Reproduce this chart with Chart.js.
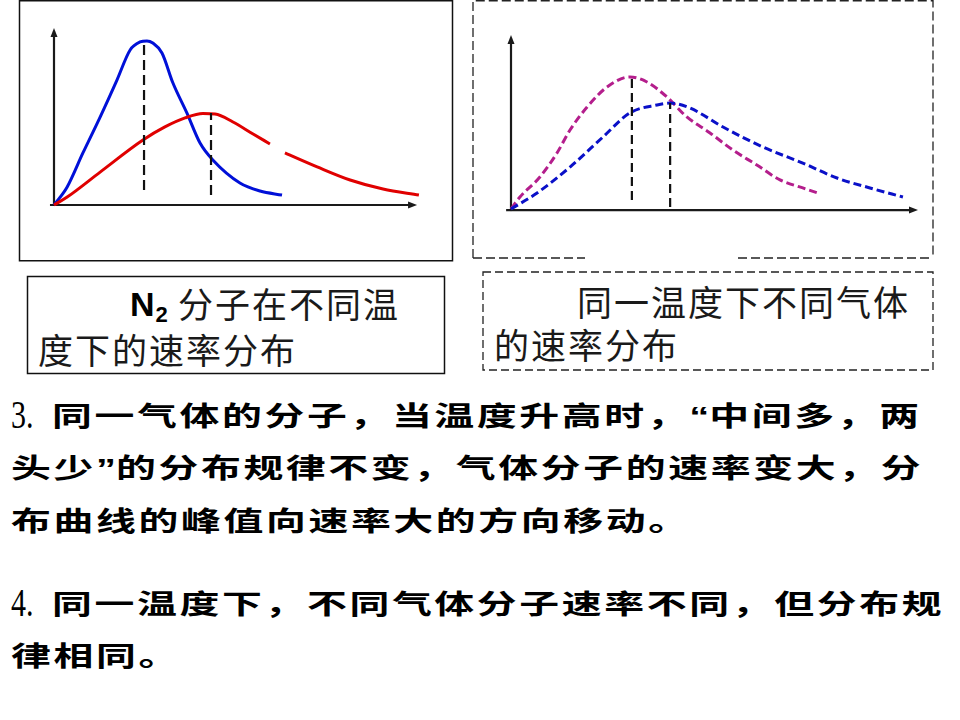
<!DOCTYPE html>
<html lang="zh-CN">
<head>
<meta charset="utf-8">
<script src="https://cdn.jsdelivr.net/npm/chart.js"></script>
<style>
html,body{margin:0;padding:0;background:#fff;}
#page{position:relative;width:960px;height:720px;overflow:hidden;background:#fff;}
canvas{position:absolute;}
svg{position:absolute;left:0;top:0;}
.t{position:absolute;white-space:nowrap;}
.cap{font-family:"Noto Sans CJK SC";font-size:35px;letter-spacing:2px;line-height:40px;color:#1a1a1a;font-weight:400;}
.body{font-family:"Noto Sans CJK SC";font-weight:700;font-size:27.5px;letter-spacing:1.8px;line-height:40px;color:#000;transform:scaleX(1.45);transform-origin:0 50%;}
.body .q{font-family:"Liberation Sans";font-weight:700;letter-spacing:0;}
.num{font-family:"Liberation Serif";font-size:40px;line-height:40px;color:#000;transform:scaleX(0.75);transform-origin:0 50%;}
.n2{font-family:"Liberation Sans";font-weight:700;font-size:34px;line-height:40px;color:#000;}
.n2 span{font-size:22px;position:relative;top:6px;margin-left:1px;}
</style>
</head>
<body>
<div id="page">
<svg width="960" height="720">
  <rect x="19.5" y="0.75" width="433" height="260" fill="none" stroke="#111" stroke-width="1.5"/>
  <path d="M473,258 L473,0.75 L933,0.75 L933,258" fill="none" stroke="#222" stroke-width="1.3" stroke-dasharray="9 4"/>
  <path d="M473,258 H585 M738,258 H933" fill="none" stroke="#222" stroke-width="1.3" stroke-dasharray="9 4"/>
  <rect x="27.5" y="276.5" width="417" height="97" fill="none" stroke="#111" stroke-width="1.5"/>
  <rect x="483" y="272" width="450" height="98" fill="none" stroke="#222" stroke-width="1.3" stroke-dasharray="8 4"/>
</svg>
<canvas id="c1" width="432" height="259" style="left:20px;top:1px"></canvas>
<canvas id="c2" width="458" height="256" style="left:474px;top:1px"></canvas>

<div class="t n2" style="left:130px;top:284px">N<span>2</span></div>
<div class="t cap" style="left:178px;top:283px">分子在不同温</div>
<div class="t cap" style="left:38px;top:329px">度下的速率分布</div>
<div class="t cap" style="left:577px;top:281px">同一温度下不同气体</div>
<div class="t cap" style="left:494px;top:324px">的速率分布</div>

<div class="t num" style="left:11px;top:395px">3.</div>
<div class="t body" style="left:52px;top:394px">同一气体的分子，当温度升高时，<span class="q">“</span>中间多，两</div>
<div class="t body" style="left:11px;top:446px">头少<span class="q">”</span>的分布规律不变，气体分子的速率变大，分</div>
<div class="t body" style="left:11px;top:499px">布曲线的峰值向速率大的方向移动。</div>
<div class="t num" style="left:11px;top:583px">4.</div>
<div class="t body" style="left:52px;top:582px">同一温度下，不同气体分子速率不同，但分布规</div>
<div class="t body" style="left:11px;top:634px">律相同。</div>
</div>

<script>
// ---- Left chart: N2 at two temperatures (arbitrary units) ----
const lowTSpeed   = [0, 3.6, 7.9, 12.6, 17.2, 20.8, 23.5, 25.4, 27.0, 29.5, 32.5, 36.3, 39.9, 43.4, 50.8, 56.3, 62.3];
const lowTDensity = [0, 10.2, 29.4, 49.7, 70.6, 87.6, 92.1, 92.7, 91.5, 85.9, 68.9, 52.0, 35.0, 25.4, 12.4, 7.9, 5.6];
const highTSpeed   = [0, 3.6, 12.6, 24.3, 30.3, 35.8, 40.7, 44.0, 48.9, 54.4, 59.0, 61.0, 63.1, 71.9, 80.9, 89.9, 99.7];
const highTDensity = [0, 4.5, 18.6, 36.7, 44.1, 49.2, 51.7, 51.4, 46.9, 40.1, 34.5, null, 29.4, 21.5, 14.1, 9.0, 5.6];
const lowTPeakX = [24.6, 24.6],  lowTPeakY = [8.5, 92.7];
const highTPeakX = [42.9, 42.9], highTPeakY = [5.6, 52.0];

// ---- Right chart: two gases at the same temperature ----
const gasASpeed   = [0, 2.2, 7.1, 11.3, 14.5, 18.7, 23.6, 29.2, 33.4, 38.3, 43.2, 48.9, 54.5, 60.4, 66.1, 71.7, 75.4];
const gasADensity = [0, 6.9, 18.4, 32.2, 45.4, 58.6, 70.1, 75.9, 73.0, 64.4, 52.9, 43.7, 33.9, 25.3, 16.7, 12.1, 9.2];
const gasBSpeed   = [0, 6.4, 14.5, 22.6, 29.2, 35.9, 39.1, 44.0, 52.1, 61.9, 71.7, 80.1, 88.2, 96.3];
const gasBDensity = [0, 9.2, 24.1, 41.4, 55.2, 59.8, 60.9, 58.0, 47.1, 35.6, 26.4, 17.8, 12.1, 6.9];
const gasAPeakX = [29.7, 29.7], gasAPeakY = [5.2, 75.3];
const gasBPeakX = [39.1, 39.1], gasBPeakY = [1.1, 60.9];

function pts(xs, ys) { return xs.map((x, i) => ({ x: x, y: ys[i] })); }

const arrowAxes = {
  id: 'arrowAxes',
  beforeDatasetsDraw(chart, args, o) {
    const ctx = chart.ctx, xs = chart.scales.x, ys = chart.scales.y;
    const ox = xs.getPixelForValue(o.originX), oy = ys.getPixelForValue(o.originY);
    const yTop = ys.getPixelForValue(o.yEnd);
    const xL = xs.getPixelForValue(o.xStart), xR = xs.getPixelForValue(o.xEnd);
    ctx.save();
    ctx.strokeStyle = o.color; ctx.fillStyle = o.color; ctx.lineWidth = o.width;
    ctx.beginPath(); ctx.moveTo(ox, oy + 1); ctx.lineTo(ox, yTop + 6); ctx.stroke();
    ctx.beginPath(); ctx.moveTo(ox, yTop); ctx.lineTo(ox - 3.5, yTop + 9); ctx.lineTo(ox + 3.5, yTop + 9); ctx.closePath(); ctx.fill();
    ctx.beginPath(); ctx.moveTo(xL, oy); ctx.lineTo(xR - 6, oy); ctx.stroke();
    ctx.beginPath(); ctx.moveTo(xR, oy); ctx.lineTo(xR - 9, oy - 3.5); ctx.lineTo(xR - 9, oy + 3.5); ctx.closePath(); ctx.fill();
    ctx.restore();
  }
};

function baseOptions(pad, axes) {
  return {
    responsive: false, animation: false, devicePixelRatio: 1,
    layout: { padding: pad },
    scales: {
      x: { type: 'linear', min: 0, max: 100, display: false },
      y: { type: 'linear', min: 0, max: 100, display: false }
    },
    plugins: { legend: { display: false }, tooltip: { enabled: false }, arrowAxes: axes },
    elements: { point: { radius: 0 }, line: { borderCapStyle: 'butt' } }
  };
}

function curve(xs, ys, color, width, dash) {
  return { data: pts(xs, ys), borderColor: color, borderWidth: width, borderDash: dash || [],
           cubicInterpolationMode: 'monotone', spanGaps: false, fill: false, clip: false, pointRadius: 0 };
}
function guide(xs, ys, dash) {
  return { data: pts(xs, ys), borderColor: '#111', borderWidth: 2.2, borderDash: dash,
           tension: 0, fill: false, clip: false, pointRadius: 0 };
}

new Chart(document.getElementById('c1'), {
  type: 'line',
  data: { datasets: [
    guide(lowTPeakX, lowTPeakY, [10, 5]),
    guide(highTPeakX, highTPeakY, [10, 5]),
    curve(highTSpeed, highTDensity, '#e00000', 3),
    curve(lowTSpeed, lowTDensity, '#0010d8', 3)
  ]},
  options: baseOptions({ left: 34, right: 32, top: 27, bottom: 55 },
    { originX: 0, originY: 0, yEnd: 100, xStart: -1.1, xEnd: 99.2, color: '#1a1a1a', width: 2.2 }),
  plugins: [arrowAxes]
});

new Chart(document.getElementById('c2'), {
  type: 'line',
  data: { datasets: [
    guide(gasAPeakX, gasAPeakY, [9, 5]),
    guide(gasBPeakX, gasBPeakY, [9, 5]),
    curve(gasBSpeed, gasBDensity, '#0a10c8', 3, [8, 4]),
    curve(gasASpeed, gasADensity, '#b41e8c', 3, [8, 4])
  ]},
  options: baseOptions({ left: 37, right: 14, top: 34, bottom: 48 },
    { originX: 0, originY: -0.6, yEnd: 100, xStart: -1.2, xEnd: 100, color: '#1a1a1a', width: 2.2 }),
  plugins: [arrowAxes]
});
</script>
</body>
</html>
